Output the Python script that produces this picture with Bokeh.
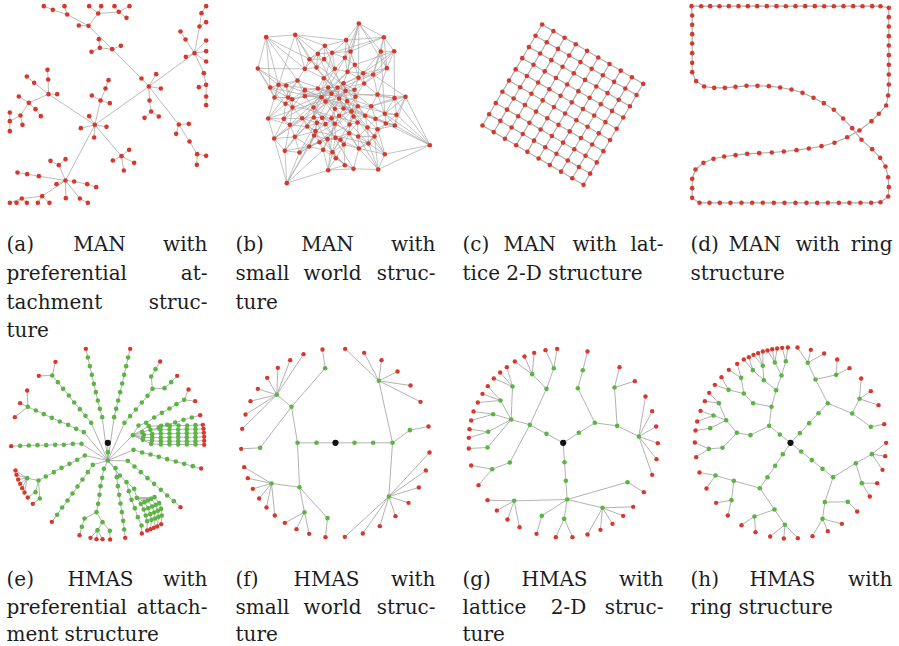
import numpy as np
from bokeh.plotting import figure
from bokeh.models import Range1d, ColumnDataSource
from bokeh.embed import file_html
from bokeh.resources import INLINE
from bokeh.core.properties import value

# ---------------------------------------------------------------------------
# Graph data. Layout coordinates are stored on a grid three times finer than
# the page (each panel is 675 x 645 layout units).
# ---------------------------------------------------------------------------

# (a) MAN, preferential attachment: node positions and parent of each node
a_x = [445, 283, 582, 423, 467, 481, 447, 535, 335, 298,
       361, 295, 273, 264, 235, 200, 293, 157, 192, 130,
       266, 302, 355, 342, 387, 378, 452, 432, 475, 565,
       527, 567, 590, 617, 589, 556, 555, 597, 617, 617,
       617, 610, 540, 603, 617, 617, 617, 595, 617, 617,
       266, 241, 318, 281, 300, 363, 144, 195, 274, 328,
       315, 324, 386, 401, 337, 370, 170, 143, 101, 85,
       141, 79, 55, 105, 60, 121, 28, 66, 28, 28,
       168, 221, 175, 115, 125, 196, 238, 150, 195, 80,
       51, 260, 287, 262, 64, 112, 147, 28, 48, 79]
a_y = [258, 373, 158, 234, 221, 264, 300, 372, 146, 142,
       136, 116, 154, 76, 75, 42, 39, 28, 17, 17,
       17, 17, 34, 17, 17, 52, 333, 352, 348, 370,
       400, 423, 461, 466, 493, 169, 117, 78, 120, 152,
       183, 218, 93, 38, 65, 17, 253, 260, 288, 314,
       347, 383, 379, 411, 300, 467, 281, 540, 285, 308,
       264, 239, 448, 487, 480, 510, 281, 237, 247, 307,
       208, 228, 288, 326, 345, 347, 362, 373, 336, 392,
       551, 543, 494, 527, 587, 593, 594, 481, 476, 521,
       516, 551, 560, 607, 594, 607, 607, 607, 607, 607]
a_parent = [-1, 0, 0, 0, 0, 0, 0, 0, 3, 8,
            8, 9, 9, 8, 13, 13, 13, 15, 15, 17,
            16, 16, 16, 22, 22, 22, 6, 26, 26, 7,
            7, 7, 31, 32, 32, 2, 2, 2, 2, 2,
            2, 2, 36, 37, 37, 43, 41, 46, 46, 48,
            1, 1, 1, 1, 1, 1, 1, 1, 54, 54,
            54, 60, 55, 55, 55, 55, 56, 56, 56, 56,
            67, 68, 69, 69, 69, 73, 74, 74, 76, 76,
            57, 57, 57, 57, 57, 57, 57, 82, 82, 83,
            89, 81, 91, 86, 84, 84, 84, 94, 94, 94]

# (b) MAN, small world: node positions, local links to nearest peers plus shortcuts
b_x = [400, 122, 209, 475, 362, 298, 277, 320, 375, 466,
       506, 252, 296, 358, 97, 238, 273, 328, 388, 484,
       366, 413, 443, 399, 295, 216, 354, 416, 134, 159,
       182, 238, 277, 308, 336, 360, 387, 456, 147, 188,
       200, 238, 288, 318, 341, 365, 390, 507, 540, 180,
       201, 264, 300, 328, 354, 378, 397, 437, 478, 513,
       128, 175, 230, 265, 290, 318, 341, 384, 419, 450,
       193, 245, 274, 300, 328, 372, 396, 426, 456, 481,
       508, 146, 208, 266, 270, 306, 330, 345, 371, 398,
       447, 178, 222, 251, 282, 293, 321, 355, 400, 429,
       478, 331, 358, 384, 308, 458, 184, 613]
b_y = [69, 110, 103, 110, 119, 136, 160, 157, 153, 153,
       152, 176, 176, 172, 204, 205, 201, 205, 193, 203,
       214, 218, 222, 232, 233, 240, 248, 249, 261, 253,
       255, 269, 264, 261, 261, 271, 268, 282, 291, 291,
       296, 287, 290, 280, 294, 302, 289, 293, 289, 310,
       321, 321, 303, 325, 324, 333, 317, 317, 340, 343,
       354, 355, 353, 351, 352, 353, 346, 348, 346, 355,
       373, 378, 367, 371, 370, 372, 366, 381, 386, 369,
       375, 414, 409, 405, 392, 416, 412, 418, 398, 408,
       408, 451, 456, 438, 425, 448, 455, 432, 444, 429,
       461, 473, 494, 505, 509, 507, 548, 434]
b_near = 5
b_shortcuts = [(0, 4), (0, 8), (0, 20), (0, 9), (0, 19), (0, 23),
               (1, 2), (1, 11), (1, 28), (1, 15), (1, 25),
               (2, 5), (2, 4), (2, 38), (2, 16),
               (3, 9), (3, 10), (3, 19), (3, 4), (3, 7), (3, 22),
               (14, 15), (14, 38), (14, 30), (14, 29),
               (107, 48), (107, 105), (107, 59), (107, 58), (107, 47),
               (106, 104), (106, 92), (106, 95), (106, 91), (106, 83),
               (105, 103), (105, 98), (105, 100), (105, 89),
               (10, 47), (10, 18), (48, 22), (48, 57), (37, 19), (58, 9),
               (60, 25), (61, 31), (70, 50), (81, 62), (82, 84),
               (5, 45), (6, 54), (7, 63), (11, 57), (12, 68), (13, 71),
               (16, 77), (17, 82), (18, 62), (20, 70), (21, 61), (22, 50),
               (23, 64), (24, 78), (25, 57), (26, 93), (27, 40), (28, 59),
               (29, 47), (30, 69), (31, 80), (32, 99), (33, 90), (34, 91),
               (35, 81), (36, 60), (37, 41), (39, 89), (42, 98), (43, 92),
               (44, 100), (46, 85), (49, 76), (51, 88), (52, 79), (53, 104),
               (55, 94), (56, 73), (62, 102), (63, 97), (64, 103), (66, 95),
               (67, 96), (72, 101), (74, 83), (75, 93), (84, 99), (86, 98),
               (60, 81), (81, 91), (91, 92), (100, 105), (59, 80), (47, 48)]

# (c) MAN, 2-D lattice: grid size and three corner nodes (top, right, left)
c_rows, c_cols = 10, 10
c_top = (275, 72)
c_right = (578, 250)
c_left = (96, 375)

# (d) MAN, ring: nodes in ring order
d_x = [48, 77, 104, 132, 160, 189, 217, 245, 274, 303, 331, 360, 389, 418, 446,
       475, 504, 533, 561, 590, 615, 640,
       640, 640, 640, 640, 640, 640, 640, 640, 638, 632, 610, 588, 552, 515,
       477, 438, 400, 363, 325, 289, 251, 215, 180, 146, 114, 84, 60, 50, 50, 50, 72,
       102, 133, 165, 198, 230, 262, 295, 327, 360, 393, 425, 457, 490, 522, 555,
       587, 615, 638,
       640, 638, 630, 614, 590, 558, 530, 503, 475, 445, 414, 381, 348, 314, 280,
       246, 213, 180, 148, 116, 86, 62,
       50, 50, 50, 50, 50, 50, 50]
d_y = [17, 17, 17, 17, 17, 17, 17, 17, 17, 17, 17, 17, 17, 17, 17,
       17, 17, 17, 17, 17, 17, 22,
       50, 78, 107, 135, 164, 193, 222, 252, 285, 315, 340, 362, 390, 410,
       427, 437, 444, 449, 453, 456, 458, 460, 464, 468, 475, 487, 507, 535, 563, 592, 607,
       607, 607, 607, 607, 607, 607, 607, 607, 607, 607, 607, 607, 607, 607, 607,
       607, 605, 588,
       560, 530, 498, 472, 446, 418, 383, 354, 328, 308, 292, 277, 267, 261, 257,
       256, 256, 259, 262, 262, 258, 242,
       215, 187, 158, 129, 101, 73, 45]

# (e) HMAS, preferential attachment: branches (first point is an existing node)
e_paths = [
    [(322, 322), (322, 350), (322, 375)],
    [(322, 375), (305, 245), (298, 220), (292, 195), (286, 170), (280, 145), (274, 118), (268, 92), (262, 66), (256, 40)],
    [(322, 375), (341, 245), (347, 220), (353, 195), (359, 170), (365, 144), (371, 118), (377, 92), (383, 66), (389, 40)],
    [(322, 375), (272, 262), (255, 241), (238, 221), (221, 201), (205, 180), (188, 160), (172, 140), (155, 120)],
    [(322, 375), (250, 290), (227, 280), (203, 268), (178, 258), (154, 247), (130, 236), (106, 225), (82, 214)],
    [(322, 375), (243, 325), (217, 325), (190, 328), (164, 328), (137, 329), (111, 329), (85, 330), (59, 331), (32, 332)],
    [(322, 375), (253, 360), (230, 373), (207, 385), (183, 397), (160, 410), (136, 423), (114, 435), (80, 428)],
    [(114, 435), (105, 470), (82, 486)],
    [(114, 435), (118, 489), (97, 505)],
    [(322, 375), (277, 388), (262, 410), (246, 432), (231, 453), (216, 474), (201, 495), (185, 516), (170, 538), (154, 559)],
    [(322, 375), (310, 400), (305, 427), (300, 452), (297, 478), (293, 505), (288, 530), (252, 549), (244, 574), (237, 599)],
    [(288, 530), (306, 560), (291, 584)],
    [(306, 560), (328, 586), (329, 612)],
    [(322, 375), (345, 398), (349, 425), (352, 452), (356, 478), (360, 504), (364, 530), (368, 556), (371, 582), (374, 607)],
    [(322, 375), (382, 376), (402, 393), (421, 410), (441, 428), (461, 445), (481, 463), (500, 480), (520, 497), (540, 515)],
    [(322, 375), (399, 343), (425, 351), (450, 357), (475, 364), (500, 371), (526, 378), (551, 385), (577, 392), (602, 399)],
    [(322, 375), (372, 262), (389, 242), (406, 222), (424, 201), (441, 181), (456, 160), (452, 123), (465, 101), (479, 78)],
    [(456, 160), (492, 158), (512, 140), (530, 121)],
    [(322, 375), (397, 299), (414, 270), (437, 262), (461, 246), (484, 232), (507, 219), (528, 206), (551, 193)],
    [(397, 299), (425, 290), (450, 283), (475, 277), (500, 268), (524, 261), (549, 253), (574, 246), (599, 239)],
    [(397, 299), (445, 272), (482, 271), (508, 271), (534, 270), (560, 270), (585, 269), (607, 268)],
    [(450, 283), (480, 283), (507, 282), (533, 282), (559, 281), (585, 281), (609, 280)],
    [(397, 299), (430, 298), (455, 296), (481, 294), (507, 294), (533, 294), (559, 293), (585, 293), (610, 292)],
    [(397, 299), (428, 306), (455, 306), (481, 306), (507, 306), (533, 305), (559, 305), (585, 305), (611, 304)],
    [(397, 299), (427, 313), (454, 316), (481, 317), (507, 317), (533, 317), (559, 317), (585, 317), (611, 316)],
    [(397, 299), (452, 325), (481, 327), (507, 327), (533, 327), (559, 327), (585, 327), (611, 328)],
    [(322, 375), (358, 420), (378, 440), (385, 467), (393, 493), (403, 518), (412, 545), (423, 570), (424, 594)],
    [(378, 440), (401, 460), (409, 487)],
    [(409, 487), (421, 505), (430, 522), (436, 540), (440, 557), (440, 585)],
    [(409, 487), (432, 500), (443, 518), (449, 536), (453, 553), (450, 581)],
    [(409, 487), (442, 495), (455, 513), (461, 531), (464, 549), (460, 577)],
    [(409, 487), (452, 490), (466, 508), (472, 526), (474, 544), (470, 573)],
    [(409, 487), (462, 485), (476, 503), (482, 520), (484, 540), (482, 566)],
]
e_fans = [
    ((155, 120), [(115, 121), (165, 79)]),
    ((82, 214), [(80, 165), (59, 203), (43, 245)]),
    ((80, 428), [(45, 405), (48, 418), (53, 432), (59, 445), (65, 458), (72, 471)]),
    ((291, 584), [(270, 607), (288, 611), (306, 611)]),
    ((551, 193), [(564, 162), (584, 197)]),
]

# (f) HMAS, small world
f_paths = [
    [(330, 322), (273, 322), (216, 322), (198, 214), (154, 178)],
    [(330, 322), (387, 322), (443, 322), (501, 322), (460, 136)],
    [(198, 214), (299, 98), (291, 42)],
    [(198, 214), (104, 337), (47, 340)],
    [(216, 322), (222, 455), (138, 444)],
    [(222, 455), (237, 530)],
    [(222, 455), (306, 548), (300, 605)],
    [(501, 322), (553, 284), (609, 273)],
    [(501, 322), (490, 483)],
]
f_fans = [
    ((154, 178), [(50, 280), (60, 237), (75, 197), (97, 160), (125, 127), (157, 97), (194, 74), (234, 56)]),
    ((138, 444), [(56, 395), (67, 428), (82, 460), (101, 489), (123, 516), (148, 540)]),
    ((237, 530), [(178, 562), (213, 581), (251, 595)]),
    ((460, 136), [(359, 40), (416, 52), (468, 74), (516, 108), (555, 150), (585, 199)]),
    ((490, 483), [(612, 351), (601, 405), (580, 456), (549, 502), (510, 542), (463, 572), (412, 594), (358, 604)]),
]

# (g) HMAS, 2-D lattice
g_paths = [
    [(338, 322), (288, 295), (238, 268), (182, 252)],
    [(238, 268), (288, 160), (245, 116)],
    [(288, 160), (310, 98)],
    [(238, 268), (178, 381), (125, 401)],
    [(338, 322), (385, 292), (433, 262), (382, 158), (397, 104), (411, 48)],
    [(433, 262), (500, 271), (492, 156)],
    [(500, 271), (565, 303)],
    [(338, 322), (342, 380), (346, 436), (350, 492), (191, 496)],
    [(350, 492), (274, 541), (258, 595)],
    [(350, 492), (341, 550)],
    [(350, 492), (456, 517)],
    [(350, 492), (531, 440), (580, 470)],
    [(182, 252), (186, 153)],
    [(182, 252), (150, 195)],
    [(182, 252), (128, 236)],
    [(182, 252), (113, 289)],
    [(182, 252), (111, 336), (55, 339)],
]
g_fans = [
    ((186, 153), [(169, 95), (149, 111), (130, 129)]),
    ((150, 195), [(112, 152), (96, 175), (82, 201)]),
    ((128, 236), [(69, 228), (62, 255)]),
    ((113, 289), [(57, 281), (55, 307)]),
    ((245, 116), [(193, 78), (222, 63), (251, 52)]),
    ((310, 98), [(285, 44), (320, 40)]),
    ((125, 401), [(62, 390), (84, 449)]),
    ((492, 156), [(507, 95), (553, 137)]),
    ((565, 303), [(585, 183), (605, 227), (617, 273), (622, 323), (618, 371), (605, 418)]),
    ((191, 496), [(111, 494), (139, 525), (171, 552), (207, 575)]),
    ((341, 550), [(316, 605), (366, 605)]),
    ((456, 517), [(548, 514), (518, 541), (486, 565), (450, 583), (411, 597)]),
]

# (h) HMAS, ring
h_paths = [
    [(345, 322), (313, 297), (281, 271), (288, 214), (302, 164), (318, 120), (331, 77)],
    [(318, 120), (298, 81)],
    [(302, 164), (265, 134), (262, 91)],
    [(265, 134), (232, 104)],
    [(288, 214), (233, 203), (205, 174), (197, 127)],
    [(205, 174), (159, 163)],
    [(281, 271), (225, 299), (184, 292), (152, 254), (130, 203)],
    [(152, 254), (114, 240)],
    [(152, 254), (104, 278)],
    [(184, 292), (141, 337), (100, 340)],
    [(345, 322), (373, 293), (401, 263), (429, 233), (457, 203), (420, 132), (397, 82)],
    [(420, 132), (482, 118)],
    [(457, 203), (530, 234), (552, 190)],
    [(530, 234), (586, 274), (626, 266)],
    [(345, 322), (377, 348), (409, 374), (441, 400), (473, 425), (541, 383), (589, 356)],
    [(541, 383), (559, 443)],
    [(473, 425), (448, 500), (517, 499), (545, 528)],
    [(448, 500), (441, 550)],
    [(345, 322), (322, 356), (299, 391), (276, 425), (253, 458), (175, 436), (120, 420)],
    [(175, 436), (168, 494)],
    [(253, 458), (297, 522), (237, 543)],
    [(297, 522), (328, 568)],
]
h_fans = [
    ((331, 77), [(320, 37), (337, 36)]),
    ((298, 81), [(276, 45), (290, 41), (305, 39)]),
    ((262, 91), [(234, 58), (248, 53), (262, 48)]),
    ((232, 104), [(205, 72), (220, 65)]),
    ((197, 127), [(160, 103), (185, 85)]),
    ((159, 163), [(118, 148), (138, 125)]),
    ((130, 203), [(88, 197), (101, 172)]),
    ((114, 240), [(65, 258), (75, 226)]),
    ((104, 278), [(60, 285)]),
    ((100, 340), [(58, 321), (62, 365)]),
    ((397, 82), [(366, 36), (406, 43), (446, 54)]),
    ((482, 118), [(485, 72), (522, 98)]),
    ((552, 190), [(557, 129), (586, 167), (609, 209)]),
    ((589, 356), [(632, 322), (629, 362), (621, 403)]),
    ((559, 443), [(605, 443), (583, 483)]),
    ((441, 550), [(499, 565), (457, 587), (411, 602)]),
    ((120, 420), [(72, 411), (93, 459)]),
    ((168, 494), [(122, 502), (157, 540)]),
    ((237, 543), [(198, 569), (240, 590)]),
    ((328, 568), [(284, 603), (325, 609), (367, 608)]),
]

# Sub-figure captions: (baseline, [(text, x, anchor), ...]); justified lines are
# set word by word, the closing lines of a caption as one run of text
caption_lines = [
    (243, [("(a)", 6, "left"), ("MAN", 99, "center"), ("with", 207, "right"),
           ("(b)", 235, "left"), ("MAN", 327, "center"), ("with", 435, "right"),
           ("(c)", 462, "left"), ("MAN", 503, "left"), ("with", 572, "left"), ("lat-", 663, "right"),
           ("(d)", 690, "left"), ("MAN", 728, "left"), ("with", 795, "left"), ("ring", 892, "right")]),
    (272, [("preferential", 6, "left"), ("at-", 207, "right"),
           ("small", 235, "left"), ("world", 332, "center"), ("struc-", 435, "right"),
           ("tice 2-D structure", 462, "left"),
           ("structure", 690, "left")]),
    (301, [("tachment", 6, "left"), ("struc-", 207, "right"),
           ("ture", 235, "left")]),
    (329, [("ture", 6, "left")]),
    (578, [("(e)", 6, "left"), ("HMAS", 100, "center"), ("with", 207, "right"),
           ("(f)", 235, "left"), ("HMAS", 326, "center"), ("with", 435, "right"),
           ("(g)", 462, "left"), ("HMAS", 554, "center"), ("with", 663, "right"),
           ("(h)", 690, "left"), ("HMAS", 782, "center"), ("with", 892, "right")]),
    (606, [("preferential", 6, "left"), ("attach-", 207, "right"),
           ("small", 235, "left"), ("world", 332, "center"), ("struc-", 435, "right"),
           ("lattice", 462, "left"), ("2-D", 568, "center"), ("struc-", 663, "right"),
           ("ring structure", 690, "left")]),
    (633, [("ment structure", 6, "left"),
           ("ture", 235, "left"),
           ("ture", 462, "left")]),
]

# ---------------------------------------------------------------------------
# Styling and page layout
# ---------------------------------------------------------------------------
RED = "#d8382c"
GREEN = "#5ab543"
BLACK = "#111111"
EDGE = "#a9a9a9"
PANEL_ORIGIN = {"a": (0, 0), "b": (225, 0), "c": (450, 0), "d": (675, 0),
                "e": (0, 335), "f": (225, 335), "g": (450, 335), "h": (675, 335)}
GRID = 3.0

W, H = 899, 646
p = figure(width=W, height=H, x_range=Range1d(0, W), y_range=Range1d(H, 0),
           x_axis_type=None, y_axis_type=None, output_backend="svg",
           toolbar_location=None, min_border=0)
p.grid.visible = False
p.outline_line_color = None
p.background_fill_color = "white"
p.border_fill_color = "white"


def to_page(key, xs, ys):
    ox, oy = PANEL_ORIGIN[key]
    return ox + np.asarray(xs, float) / GRID, oy + np.asarray(ys, float) / GRID


def build_tree(paths, fans):
    pts, index, edges = [], {}, []

    def add(pt, parent):
        index[pt] = len(pts)
        pts.append(pt)
        if parent is not None:
            edges.append((parent, index[pt]))

    add(paths[0][0], None)
    for path in paths:
        prev = index[path[0]]
        for pt in path[1:]:
            add(pt, prev)
            prev = index[pt]
    for parent, leaves in fans:
        for pt in leaves:
            add(pt, index[parent])
    xs = [q[0] for q in pts]
    ys = [q[1] for q in pts]
    return xs, ys, edges


def draw_graph(key, xs, ys, edges, colors, sizes, edge_width=0.8):
    X, Y = to_page(key, xs, ys)
    e = np.asarray(edges, int)
    p.segment(x0=X[e[:, 0]], y0=Y[e[:, 0]], x1=X[e[:, 1]], y1=Y[e[:, 1]],
              line_color=EDGE, line_width=edge_width)
    src = ColumnDataSource(dict(x=X, y=Y, c=colors, s=sizes))
    p.scatter("x", "y", size="s", fill_color="c", line_color=None, marker="circle", source=src)


# (a)
a_edges = [(a_parent[i], i) for i in range(len(a_x)) if a_parent[i] >= 0]
draw_graph("a", a_x, a_y, a_edges, [RED] * len(a_x), [4.6] * len(a_x))

# (b)
bx, by = np.asarray(b_x, float), np.asarray(b_y, float)
dist = np.hypot(bx[:, None] - bx[None, :], by[:, None] - by[None, :])
b_edges = set()
for i in range(len(bx)):
    for j in np.argsort(dist[i])[1:b_near + 1]:
        b_edges.add((min(i, int(j)), max(i, int(j))))
for i, j in b_shortcuts:
    b_edges.add((min(i, j), max(i, j)))
draw_graph("b", b_x, b_y, sorted(b_edges), [RED] * len(b_x), [4.6] * len(b_x), edge_width=0.7)

# (c)
c_xs, c_ys, c_edges = [], [], []
for i in range(c_rows):
    for j in range(c_cols):
        c_xs.append(c_top[0] + (c_right[0] - c_top[0]) * j / (c_cols - 1) + (c_left[0] - c_top[0]) * i / (c_rows - 1))
        c_ys.append(c_top[1] + (c_right[1] - c_top[1]) * j / (c_cols - 1) + (c_left[1] - c_top[1]) * i / (c_rows - 1))
        k = i * c_cols + j
        if j + 1 < c_cols:
            c_edges.append((k, k + 1))
        if i + 1 < c_rows:
            c_edges.append((k, k + c_cols))
draw_graph("c", c_xs, c_ys, c_edges, [RED] * len(c_xs), [4.6] * len(c_xs), edge_width=1.1)

# (d)
d_edges = [(i, (i + 1) % len(d_x)) for i in range(len(d_x))]
draw_graph("d", d_x, d_y, d_edges, [RED] * len(d_x), [4.6] * len(d_x), edge_width=1.1)

# (e)-(h): root black, relays green, leaves red
for key, paths, fans in (("e", e_paths, e_fans), ("f", f_paths, f_fans),
                         ("g", g_paths, g_fans), ("h", h_paths, h_fans)):
    xs, ys, edges = build_tree(paths, fans)
    has_child = set(pa for pa, _ in edges)
    colors, sizes = [], []
    for k in range(len(xs)):
        if k == 0:
            colors.append(BLACK); sizes.append(6.2)
        elif k in has_child:
            colors.append(GREEN); sizes.append(4.6)
        else:
            colors.append(RED); sizes.append(4.4)
    draw_graph(key, xs, ys, edges, colors, sizes, edge_width=0.9)

# Captions
for anchor in ("left", "center", "right"):
    tx, ty, tt = [], [], []
    for base, words in caption_lines:
        for word, x, a in words:
            if a == anchor:
                tx.append(x); ty.append(base); tt.append(word)
    p.text(x=tx, y=ty, text=tt, text_align=anchor, text_baseline="alphabetic",
           text_font=value("DejaVu Serif"), text_font_size="20px", text_color="#1c1c1c")

open("out.html", "w").write(file_html(p, INLINE))
